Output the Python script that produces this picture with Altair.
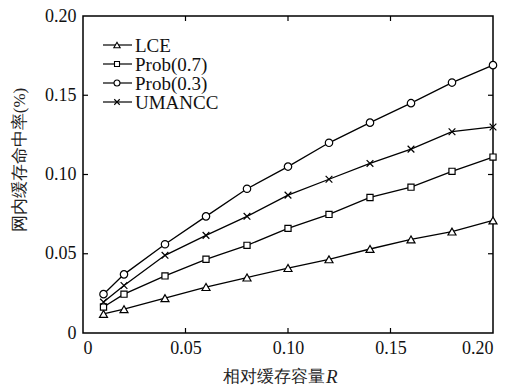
import altair as alt
import pandas as pd

R = [0.01, 0.02, 0.04, 0.06, 0.08, 0.10, 0.12, 0.14, 0.16, 0.18, 0.20]
lce = [0.012, 0.015, 0.022, 0.029, 0.035, 0.041, 0.0465, 0.053, 0.059, 0.064, 0.071]
p07 = [0.0164, 0.0245, 0.036, 0.0465, 0.0553, 0.066, 0.0748, 0.0855, 0.092, 0.102, 0.111]
p03 = [0.0245, 0.037, 0.056, 0.0736, 0.091, 0.105, 0.120, 0.1327, 0.145, 0.158, 0.169]
uma = [0.0195, 0.030, 0.049, 0.0616, 0.0736, 0.087, 0.097, 0.107, 0.116, 0.127, 0.130]

series_names = ["LCE", "Prob(0.7)", "Prob(0.3)", "UMANCC"]
series_vals = [lce, p07, p03, uma]
x_ticks = [0, 0.05, 0.10, 0.15, 0.20]
y_ticks = [0, 0.05, 0.10, 0.15, 0.20]
inner_ticks = [0.05, 0.10, 0.15]

CROSS = "M-1,-1L1,1M-1,1L1,-1"
shapes = ["triangle-up", "square", "circle", CROSS]
sizes = [64, 38, 55, 45]

W, H = 410, 317
SERIF = "Liberation Serif"

rows = []
for name, vals in zip(series_names, series_vals):
    for r, v in zip(R, vals):
        rows.append({"R": r, "hit": v, "series": name})
df = pd.DataFrame(rows)

xs = alt.Scale(domain=[0, 0.2], nice=False, zero=False)
ys = alt.Scale(domain=[0, 0.2], nice=False, zero=False)
lab = "datum.value == 0 ? '0' : format(datum.value, '.2f')"

base = alt.Chart(df)
lines = base.mark_line(color="black", strokeWidth=1.3).encode(
    x=alt.X("R:Q", scale=xs, axis=alt.Axis(values=x_ticks, labelExpr=lab, title=None, ticks=False,
                                           domain=False, grid=False, labelFont=SERIF, labelFontSize=18,
                                           labelColor="#111", labelPadding=6)),
    y=alt.Y("hit:Q", scale=ys, axis=alt.Axis(values=y_ticks, labelExpr=lab, title=None, ticks=False,
                                             domain=False, grid=False, labelFont=SERIF, labelFontSize=18,
                                             labelColor="#111", labelPadding=7)),
    detail="series:N",
)

layers = [lines]
for name, shp, sz in zip(series_names, shapes, sizes):
    layers.append(
        alt.Chart(df[df.series == name]).mark_point(
            shape=shp, size=sz, filled=True, fill="white", stroke="black", strokeWidth=1.2, opacity=1
        ).encode(x=alt.X("R:Q", scale=xs), y=alt.Y("hit:Q", scale=ys))
    )

tdf = pd.DataFrame({"t": inner_ticks})
tick_style = dict(color="black", strokeWidth=1.2)
layers.append(alt.Chart(tdf).mark_rule(**tick_style).encode(
    x=alt.X("t:Q", scale=xs), y=alt.value(H), y2=alt.value(H - 5)))
layers.append(alt.Chart(tdf).mark_rule(**tick_style).encode(
    x=alt.X("t:Q", scale=xs), y=alt.value(0), y2=alt.value(5)))
layers.append(alt.Chart(tdf).mark_rule(**tick_style).encode(
    y=alt.Y("t:Q", scale=ys), x=alt.value(0), x2=alt.value(5)))
layers.append(alt.Chart(tdf).mark_rule(**tick_style).encode(
    y=alt.Y("t:Q", scale=ys), x=alt.value(W), x2=alt.value(W - 5)))

# legend
leg_y = [29, 48, 67, 86]
leg_sizes = [40, 25, 35, 30]
for name, shp, sz, ly in zip(series_names, shapes, leg_sizes, leg_y):
    d = pd.DataFrame({"series": [name]})
    layers.append(alt.Chart(d).mark_rule(color="black", strokeWidth=1.2).encode(
        x=alt.value(20), x2=alt.value(49), y=alt.value(ly)))
    layers.append(alt.Chart(d).mark_point(
        shape=shp, size=sz, filled=True, fill="white", stroke="black", strokeWidth=1.1, opacity=1
    ).encode(x=alt.value(34), y=alt.value(ly)))
    layers.append(alt.Chart(d).mark_text(
        align="left", baseline="middle", font=SERIF, fontSize=19, color="#111"
    ).encode(x=alt.value(52), y=alt.value(ly + 1), text="series:N"))

# axis titles
tt = pd.DataFrame({"a": ["相对缓存容量"], "b": ["R"], "c": ["网内缓存命中率(%)"]})
layers.append(alt.Chart(tt).mark_text(
    align="right", baseline="middle", font=SERIF, fontSize=17, color="#222"
).encode(x=alt.value(242), y=alt.value(361), text="a:N"))
layers.append(alt.Chart(tt).mark_text(
    align="left", baseline="middle", font=SERIF, fontSize=19, fontStyle="italic", color="#222"
).encode(x=alt.value(243), y=alt.value(361), text="b:N"))
layers.append(alt.Chart(tt).mark_text(
    align="center", baseline="middle", font=SERIF, fontSize=17, color="#222", angle=270
).encode(x=alt.value(-63), y=alt.value(144), text="c:N"))

chart = alt.layer(*layers).properties(
    width=W, height=H,
    autosize=alt.AutoSizeParams(type="none"),
    padding={"left": 75, "top": 8, "right": 15, "bottom": 56},
    background="white",
).configure(
    font=SERIF,
    view=alt.ViewConfig(stroke="black", strokeWidth=1.5),
)

chart.save("out.html", embed_options={"renderer": "svg", "actions": False})
